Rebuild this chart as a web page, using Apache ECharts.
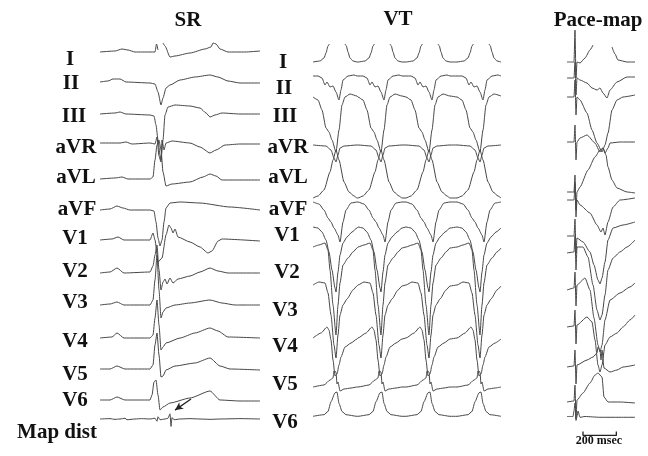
<!DOCTYPE html>
<html><head><meta charset="utf-8">
<script src="https://cdn.jsdelivr.net/npm/echarts/dist/echarts.min.js"></script>
<style>html,body{margin:0;padding:0;background:#fff}#c{width:648px;height:456px}</style>
</head><body><div id="c"></div>
<script>
// ---------- DATA (time in ms, amplitude in mV; null = trace too faint to see) ----------
const LEADS = ['I','II','III','aVR','aVL','aVF','V1','V2','V3','V4','V5','V6'];
const PANEL_TITLES = ['SR','VT','Pace-map'];

// Sinus rhythm, one beat
const SR_I   = [[0,0],[90,0.1],[132,0.3],[168,0.2],[210,0],[300,0],[330,0],[339,0.8],[348,0.2],[354,null],[378,0.9],[390,0.6],[420,-0.5],[450,-0.4],[540,-0.1],[630,0.3],[666,0.5],[678,0.9],[696,0.8],[720,0.3],[768,0],[870,0],[960,0.1]];
const SR_II  = [[0,0],[48,0.1],[78,0.3],[120,0.3],[156,0],[300,-0.1],[330,-0.2],[348,-1.0],[366,-2.3],[378,-1.6],[396,-0.6],[420,-0.3],[480,0.2],[570,0.5],[660,0.7],[708,0.5],[768,0.1],[840,-0.1],[960,-0.1]];
const SR_III = [[0,0],[90,0.1],[120,0.2],[156,0],[300,-0.1],[324,-0.2],[336,-1.1],[348,-2.6],[360,-4.1],[366,-4.6],[378,-2.6],[390,-0.1],[408,0.7],[450,0.9],[540,0.8],[600,0.6],[636,0.1],[660,-0.3],[690,-0.1],[732,0.1],[840,0],[960,0]];
const SR_aVR = [[0,0],[120,0],[156,0.1],[192,-0.1],[300,0],[330,-0.1],[342,0.6],[354,-1.3],[366,-1.9],[372,0.3],[384,-0.7],[396,0],[432,0.2],[540,0],[600,-0.4],[660,-1.0],[696,-0.7],[750,-0.2],[840,-0.1],[960,-0.1]];
const SR_aVL = [[0,0],[90,0.1],[132,0.2],[168,0],[300,0],[318,0.2],[330,1.9],[342,3.4],[354,3.9],[366,2.9],[378,0.7],[396,-0.7],[432,-0.5],[540,-0.3],[618,0.2],[660,0.5],[696,0.3],[732,-0.1],[840,-0.1],[960,-0.1]];
const SR_aVF = [[0,0],[60,0.1],[102,0.4],[138,0.2],[180,0],[300,0],[324,-0.1],[336,-1.2],[348,-2.8],[360,-3.6],[372,-3.0],[384,-1.2],[396,0.2],[420,0.7],[480,0.8],[600,0.7],[780,0.3],[960,0]];
const SR_V1  = [[0,0],[72,0.1],[108,0.3],[144,0],[300,0],[318,0.7],[330,0],[348,-2.2],[372,-1.8],[396,0.5],[414,1.5],[426,1.2],[438,0.7],[450,1.1],[468,0.3],[540,-0.2],[600,-0.7],[648,-1.3],[672,-1.1],[708,-0.1],[732,0.1],[960,-0.1]];
const SR_V2  = [[0,0],[60,0.1],[102,0.5],[144,0],[300,0.1],[318,0.7],[330,1.8],[342,2.8],[354,0.3],[366,-1.7],[378,-0.9],[390,-0.6],[402,-1.1],[420,-0.5],[438,-1.0],[468,-0.6],[540,-0.3],[600,0.1],[660,0.5],[708,0.2],[768,0],[960,0]];
const SR_V3  = [[0,0],[60,0.1],[102,0.3],[144,0],[300,0],[318,0.5],[330,2.5],[342,5.0],[354,1.5],[366,-1.3],[378,-0.7],[396,-0.3],[450,0],[540,0.2],[660,0.5],[732,0.2],[810,0],[960,0]];
const SR_V4  = [[0,0],[72,0.1],[102,0.5],[144,0],[300,0],[318,0.3],[330,2.0],[342,3.8],[354,1.3],[366,-1.2],[378,-0.9],[396,-0.5],[480,0],[570,0.5],[660,1.0],[708,0.7],[768,0.1],[960,0]];
const SR_V5  = [[0,0],[60,0],[102,0.3],[150,0],[300,0],[318,0.4],[330,2.4],[342,3.6],[354,1.4],[366,-0.8],[378,-0.7],[396,-0.1],[450,0.3],[570,0.6],[660,1.1],[720,0.3],[780,0],[960,-0.1]];
const SR_V6  = [[0,0],[60,0],[102,0.3],[150,0],[300,0],[312,0.5],[324,1.8],[336,2.0],[348,0.5],[360,-1.0],[378,-0.7],[420,-0.3],[540,0.2],[660,0.9],[720,0],[840,-0.1],[960,-0.1]];
const SR_MAP = [[0,0],[60,0.05],[90,-0.05],[120,0],[150,0.1],[162,-0.1],[210,0],[250,0.05],[300,0],[330,0.1],[342,-0.3],[348,0.3],[360,-0.1],[390,0],[408,0.1],[420,0.7],[426,-1.0],[432,0.2],[444,-0.1],[480,0],[540,0.05],[600,0],[660,-0.05],[720,0],[840,0.05],[960,0]];

// VT: QRS times and one-cycle template per lead (time relative to QRS)
const VT_BEATS = [-138,150,420,708,1014,1314];
const VT_I   = [[-138,-0.7],[-96,-0.6],[-72,-0.3],[-60,0.2],[-48,0.9],[-40,1.1],[0,null],[54,1.1],[62,0.9],[72,0.3],[84,-0.3],[102,-0.6],[126,-0.7]];
const VT_II  = [[-138,0.1],[-108,0.1],[-84,-0.1],[-66,-0.8],[-54,-0.5],[-36,-1.0],[-18,-0.9],[0,-1.5],[18,-2.3],[30,-1.3],[42,-0.3],[72,0.1],[108,0.2],[126,0.1]];
const VT_III = [[-138,0],[-108,-0.3],[-84,-1.3],[-60,-3.1],[-42,-3.5],[-24,-4.3],[0,-5.5],[18,-3.3],[36,-0.8],[54,0],[84,0.3],[126,0.1]];
const VT_aVR = [[-138,0.1],[-60,0],[-30,-0.4],[-12,-1.2],[0,-1.6],[12,-0.9],[24,-0.2],[48,0],[126,0.1]];
const VT_aVL = [[-138,-2.3],[-108,-2.1],[-72,-1.5],[-36,0.3],[-18,1.5],[0,2.5],[18,1.5],[48,-0.7],[78,-1.7],[108,-2.1],[126,-2.3]];
const VT_aVF = [[-138,0.3],[-102,0.1],[-72,-0.5],[-48,-1.3],[-30,-1.7],[-12,-2.3],[12,-3.0],[24,-3.7],[42,-1.7],[60,-0.5],[90,0.2],[126,0.3]];
const VT_V1  = [[-138,0.8],[-108,0.7],[-84,0.3],[-60,-0.5],[-42,-1.7],[-24,-3.5],[-6,-5.3],[0,-5.7],[12,-3.7],[24,-2.0],[42,-0.8],[66,-0.2],[96,0.3],[126,0.7]];
const VT_V2  = [[-138,1.3],[-102,1.5],[-66,1.7],[-48,1.0],[-36,-1.0],[-18,-4.5],[0,-7.5],[12,-4.5],[24,-2.3],[42,-0.5],[72,0.2],[102,0.8],[126,1.2]];
const VT_V3  = [[-138,0.5],[-102,0.8],[-66,0.7],[-48,-0.3],[-30,-2.5],[-12,-5.5],[0,-6.8],[12,-4.5],[24,-2.5],[42,-1.5],[66,-0.9],[102,0],[126,0.4]];
const VT_V4  = [[-138,0.2],[-90,0.7],[-54,1.3],[-42,1.0],[-30,0],[-18,-2.0],[-6,-3.6],[6,-3.4],[18,-2.5],[30,-1.7],[54,-0.7],[90,-0.3],[126,0.1]];
const VT_V5  = [[-138,0.1],[-72,0.3],[-36,0.8],[-18,1.0],[-12,1.7],[0,1.6],[6,0.4],[12,0.6],[24,-0.3],[48,-0.1],[90,0],[126,0.1]];
const VT_V6  = [[-138,-0.1],[-72,0.1],[-48,0.5],[-30,1.7],[-6,2.8],[6,2.9],[18,1.5],[36,0.5],[60,0.1],[126,-0.1]];

// Pace-map, one paced beat (stimulus artefact near 48 ms)
const PM_I   = [[0,0],[36,0],[42,0],[48,3.2],[54,-1.6],[60,0],[78,-0.1],[108,0.4],[138,1.2],[156,1.7],[198,null],[270,1.5],[288,0.8],[306,0.2],[360,0],[408,0]];
const PM_II  = [[0,0],[42,0],[48,1.6],[54,-1.7],[60,0],[78,-0.2],[120,-0.5],[150,-1.0],[180,-1.2],[198,-1.0],[216,-1.5],[240,-2.0],[258,-1.2],[300,-0.4],[360,0.1],[408,0.1]];
const PM_III = [[0,0],[42,0],[48,1.7],[54,-1.8],[60,0],[78,-0.3],[120,-1.6],[150,-3.3],[180,-4.6],[210,-5.5],[228,-4.8],[246,-3.6],[270,-1.3],[300,-0.3],[336,0],[408,0.2]];
const PM_aVR = [[0,0],[42,0],[48,1.7],[54,-1.8],[60,0],[78,0.4],[120,0.7],[168,-0.1],[198,-1.0],[216,-0.6],[228,-1.1],[246,-0.6],[258,-0.1],[318,0],[408,0]];
const PM_aVL = [[0,0],[42,0],[48,1.7],[54,-1.8],[60,0],[78,0.5],[126,2.2],[168,3.5],[198,4.2],[216,4.4],[234,3.7],[246,2.5],[270,1.2],[300,0.4],[360,0],[408,-0.1]];
const PM_aVF = [[0,0],[42,0],[48,1.7],[54,-1.7],[60,0],[78,-0.5],[138,-1.3],[180,-2.5],[204,-3.2],[216,-2.8],[228,-3.5],[246,-2.2],[276,-0.7],[318,0],[408,0.2]];
const PM_V1  = [[0,0],[42,0],[48,1.7],[54,-1.7],[60,-0.2],[96,-0.6],[138,-1.6],[162,-2.9],[186,-4.4],[198,-4.8],[210,-4.2],[228,-2.6],[246,-0.4],[276,0.8],[336,1.1],[408,1.4]];
const PM_V2  = [[0,0],[42,0.1],[48,1.7],[54,-1.7],[60,0.6],[96,0.6],[126,-0.4],[156,-3.2],[180,-5.7],[198,-6.7],[210,-6.2],[228,-4.2],[246,-1.7],[276,-0.5],[318,0.1],[360,0.6],[408,1.3]];
const PM_V3  = [[0,0],[42,0.2],[48,1.8],[54,-1.6],[60,0.5],[108,1.2],[138,0],[162,-2.8],[186,-5.5],[198,-6.2],[210,-5.5],[228,-3.0],[258,-1.0],[318,-0.3],[378,0.3],[408,0.7]];
const PM_V4  = [[0,0],[42,0.1],[48,1.7],[54,-1.7],[60,0.2],[120,1.0],[150,0.5],[168,-1.3],[186,-3.8],[198,-4.5],[210,-3.8],[228,-1.8],[258,-1.0],[300,-0.6],[336,0],[378,0.7],[408,1.2]];
const PM_V5  = [[0,0],[42,0.1],[48,1.7],[54,-1.7],[60,0.2],[120,0.7],[156,1.0],[180,1.4],[186,2.0],[198,1.7],[204,0.7],[210,1.7],[222,-0.1],[258,-0.5],[300,-0.3],[336,0],[408,0.2]];
const PM_V6  = [[0,0],[42,0.1],[48,1.7],[54,-1.7],[60,0.2],[96,0.9],[138,1.9],[168,2.7],[186,2.9],[210,2.5],[222,0.5],[246,0],[318,0],[408,-0.1]];
const PM_MAP = [[0,0],[36,0],[42,0.7],[48,1.7],[54,-0.5],[60,0],[66,0.7],[78,-0.1],[108,0],[198,-0.1],[318,-0.1],[408,-0.1]];

const SCALE_BAR_MS = 200;
const SCALE_BAR_START = 96;
const ARROW_FROM = [546, 2.7], ARROW_TO = [450, 1.2];   // annotation on SR map-dist trace

// ---------- LAYOUT ----------
const FONT = '"Liberation Serif","Times New Roman",serif';
const LINE = {color:'#474747', width:1};
const panels = [
  {left:100, width:160, dur:960,
   base:[52,82,114,143,179,210,240,273,305,338,369,400,432],
   traces:[SR_I,SR_II,SR_III,SR_aVR,SR_aVL,SR_aVF,SR_V1,SR_V2,SR_V3,SR_V4,SR_V5,SR_V6,SR_MAP]},
  {left:311, width:194, dur:1164,
   base:[55,77,97,146,175,205,235,260,290,340,388,425],
   traces:[VT_I,VT_II,VT_III,VT_aVR,VT_aVL,VT_aVF,VT_V1,VT_V2,VT_V3,VT_V4,VT_V5,VT_V6].map(tp =>
     VT_BEATS.flatMap(c => tp.map(([dt,v]) => [c+dt, v])).filter(p => p[0] >= 0 && p[0] <= 1164))},
  {left:567, width:68, dur:408,
   base:[62,78,97,142,192,200,236,253,290,327,367,402,427],
   traces:[PM_I,PM_II,PM_III,PM_aVR,PM_aVL,PM_aVF,PM_V1,PM_V2,PM_V3,PM_V4,PM_V5,PM_V6,PM_MAP]}
];
const titlePos = [[188,21],[398,20],[598,21]];
const srLabelPos = [[70,60],[71,84],[74,117],[76,148],[76,178],[77,210],[75,239],[75,272],[75,303],[75,342],[75,375],[75,401]];
const vtLabelPos = [[283,63],[284,89],[285,117],[288,148],[288,178],[288,210],[287,236],[287,273],[285,311],[285,347],[285,385],[285,423]];

const grid=[], xAxis=[], yAxis=[], series=[];
function addTrace(p, k, data, extra){
  const i = grid.length;
  grid.push({left:p.left, width:p.width, top:p.base[k]-50, height:100, containLabel:false});
  xAxis.push({type:'value', gridIndex:i, min:0, max:p.dur, show:false});
  yAxis.push({type:'value', gridIndex:i, min:-5, max:5, show:false});
  series.push(Object.assign({type:'line', xAxisIndex:i, yAxisIndex:i, data:data, symbol:'none',
    showSymbol:false, clip:false, connectNulls:false, smooth:0.2, smoothMonotone:'x', lineStyle:LINE,
    animation:false, silent:true}, extra||{}));
  return i;
}
panels.forEach(p => p.traces.forEach((d,k) => addTrace(p,k,d)));

// arrow on SR map-dist trace
series[12].markLine = {silent:true, animation:false, symbol:['none','arrow'], symbolSize:[6,8],
  label:{show:false}, lineStyle:{color:'#222', width:1.3, type:'solid'},
  data:[[{coord:ARROW_FROM},{coord:ARROW_TO}]]};

// scale bar on pace-map map-dist grid
const pmMapAxis = series.length - 1;
series.push({type:'line', xAxisIndex:pmMapAxis, yAxisIndex:pmMapAxis, symbol:'none', clip:false,
  animation:false, silent:true, lineStyle:{color:'#222', width:1.3},
  data:[[SCALE_BAR_START,-1.9],[SCALE_BAR_START,-2.4],[SCALE_BAR_START+SCALE_BAR_MS,-2.4],[SCALE_BAR_START+SCALE_BAR_MS,-1.9]]});

function txt(s, x, y, size, align){
  return {type:'text', x:x, y:y, silent:true, style:{text:s, font:'bold '+size+'px '+FONT, fill:'#111',
    align:align||'center', verticalAlign:'middle', textAlign:align||'center', textVerticalAlign:'middle'}};
}
const graphic = [];
PANEL_TITLES.forEach((t,i) => graphic.push(txt(t, titlePos[i][0], titlePos[i][1], 21)));
LEADS.forEach((l,i) => { graphic.push(txt(l, srLabelPos[i][0], srLabelPos[i][1], 21));
                         graphic.push(txt(l, vtLabelPos[i][0], vtLabelPos[i][1], 21)); });
graphic.push(txt('Map dist', 97, 433, 21, 'right'));
graphic.push(txt(SCALE_BAR_MS + ' msec', 599, 441, 12));

const chart = echarts.init(document.getElementById('c'), null, {renderer:'canvas'});
chart.setOption({backgroundColor:'#fff', animation:false, grid, xAxis, yAxis, series, graphic});
</script></body></html>
